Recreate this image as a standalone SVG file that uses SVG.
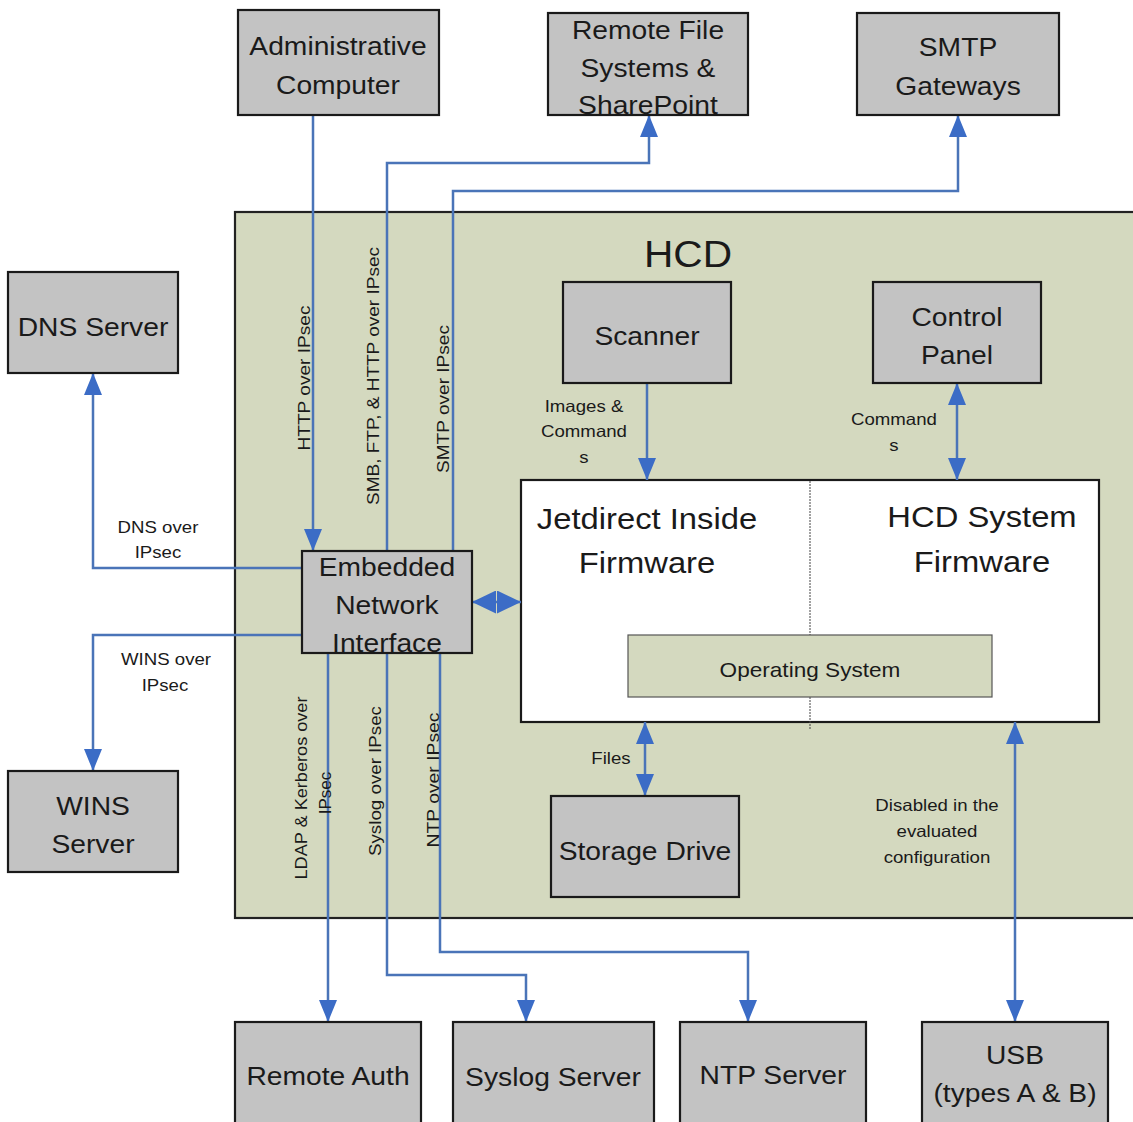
<svg xmlns="http://www.w3.org/2000/svg" width="1133" height="1122" viewBox="0 0 1133 1122">
<style>
text { font-family: "Liberation Sans", Arial, sans-serif; fill: #1a1a1a; }
.h { transform-box: fill-box; transform-origin: center; transform: scaleX(1.13); }
.box { fill: #c3c3c3; stroke: #1a1a1a; stroke-width: 2.2; }
.bl { font-size: 25px; text-anchor: middle; }
.sl { font-size: 16.5px; text-anchor: middle; }
.vl { font-size: 17px; text-anchor: middle; }
.fw { font-size: 29px; text-anchor: middle; }
.con { fill: none; stroke: #4a74b8; stroke-width: 2.5; }
</style>
<defs>
<marker id="arr" viewBox="0 0 22 18" refX="22" refY="9" markerWidth="22" markerHeight="18" markerUnits="userSpaceOnUse" orient="auto-start-reverse"><path d="M0,0 L22,9 L0,18 z" fill="#3b6cc6"/></marker>
<marker id="arr2" viewBox="0 0 24 23" refX="24" refY="11.5" markerWidth="24" markerHeight="23" markerUnits="userSpaceOnUse" orient="auto-start-reverse"><path d="M0,0 L24,11.5 L0,23 z" fill="#3b6cc6"/></marker>
</defs>
<rect width="1133" height="1122" fill="#ffffff"/>

<g id="hcd">
<rect x="235" y="212" width="910" height="706" fill="#d4d9bf" stroke="#222" stroke-width="2.2"/>
<text class="h" x="688" y="267" font-size="36" text-anchor="middle">HCD</text>
</g>

<g id="firmware">
<rect x="521" y="480" width="578" height="242" fill="#ffffff" stroke="#1a1a1a" stroke-width="2.2"/>
<line x1="810" y1="481" x2="810" y2="729" stroke="#444" stroke-width="1" stroke-dasharray="2,1"/>
<text class="fw h" x="647" y="529">Jetdirect Inside</text>
<text class="fw h" x="647" y="573">Firmware</text>
<text class="fw h" x="982" y="527">HCD System</text>
<text class="fw h" x="982" y="572">Firmware</text>
<g id="os">
<rect x="628" y="635" width="364" height="62" fill="#d4d9bf" stroke="#555" stroke-width="1.2"/>
<text class="h" x="810" y="677" font-size="20" text-anchor="middle">Operating System</text>
</g>
</g>

<g id="connectors">
<path class="con" d="M313,115 V551" marker-end="url(#arr)"/>
<path class="con" d="M387,551 V163 H649 V115" marker-end="url(#arr)"/>
<path class="con" d="M453,551 V191 H958 V115" marker-end="url(#arr)"/>
<path class="con" d="M302,568 H93 V373" marker-end="url(#arr)"/>
<path class="con" d="M302,635 H93 V771" marker-end="url(#arr)"/>
<path class="con" d="M328,653 V1022" marker-end="url(#arr)"/>
<path class="con" d="M387,653 V975 H526 V1022" marker-end="url(#arr)"/>
<path class="con" d="M440,653 V952 H748 V1022" marker-end="url(#arr)"/>
<path class="con" d="M472,602 H521" marker-start="url(#arr2)" marker-end="url(#arr2)"/>
<path class="con" d="M647,383 V480" marker-end="url(#arr)"/>
<path class="con" d="M957,383 V480" marker-start="url(#arr)" marker-end="url(#arr)"/>
<path class="con" d="M645,722 V796" marker-start="url(#arr)" marker-end="url(#arr)"/>
<path class="con" d="M1015,722 V1022" marker-start="url(#arr)" marker-end="url(#arr)"/>
</g>

<g id="labels">
<text class="vl" transform="translate(310,378) rotate(-90)" textLength="145" lengthAdjust="spacingAndGlyphs">HTTP over IPsec</text>
<text class="vl" transform="translate(379,376) rotate(-90)" textLength="258" lengthAdjust="spacingAndGlyphs">SMB, FTP, &amp; HTTP over IPsec</text>
<text class="vl" transform="translate(449,399) rotate(-90)" textLength="148" lengthAdjust="spacingAndGlyphs">SMTP over IPsec</text>
<text class="vl" transform="translate(307,788) rotate(-90)" textLength="183" lengthAdjust="spacingAndGlyphs">LDAP &amp; Kerberos over</text>
<text class="vl" transform="translate(331,793) rotate(-90)">IPsec</text>
<text class="vl" transform="translate(381,781) rotate(-90)" textLength="150" lengthAdjust="spacingAndGlyphs">Syslog over IPsec</text>
<text class="vl" transform="translate(439,780) rotate(-90)" textLength="135" lengthAdjust="spacingAndGlyphs">NTP over IPsec</text>
<text class="sl h" x="158" y="533">DNS over</text>
<text class="sl h" x="158" y="558">IPsec</text>
<text class="sl h" x="166" y="665">WINS over</text>
<text class="sl h" x="165" y="691">IPsec</text>
<text class="sl h" x="584" y="412">Images &amp;</text>
<text class="sl h" x="584" y="437">Command</text>
<text class="sl h" x="584" y="463">s</text>
<text class="sl h" x="894" y="425">Command</text>
<text class="sl h" x="894" y="451">s</text>
<text class="sl h" x="611" y="764">Files</text>
<text class="sl h" x="937" y="811">Disabled in the</text>
<text class="sl h" x="937" y="837">evaluated</text>
<text class="sl h" x="937" y="863">configuration</text>
</g>

<g id="admin">
<rect class="box" x="238" y="10" width="201" height="105"/>
<text class="bl h" x="338" y="55">Administrative</text>
<text class="bl h" x="338" y="94">Computer</text>
</g>
<g id="remotefs">
<rect class="box" x="548" y="13" width="200" height="102"/>
<text class="bl h" x="648" y="39">Remote File</text>
<text class="bl h" x="648" y="77">Systems &amp;</text>
<text class="bl h" x="648" y="114">SharePoint</text>
</g>
<g id="smtp">
<rect class="box" x="857" y="13" width="202" height="102"/>
<text class="bl h" x="958" y="56">SMTP</text>
<text class="bl h" x="958" y="95">Gateways</text>
</g>
<g id="dns">
<rect class="box" x="8" y="272" width="170" height="101"/>
<text class="bl h" x="93" y="336">DNS Server</text>
</g>
<g id="wins">
<rect class="box" x="8" y="771" width="170" height="101"/>
<text class="bl h" x="93" y="815">WINS</text>
<text class="bl h" x="93" y="853">Server</text>
</g>
<g id="scanner">
<rect class="box" x="563" y="282" width="168" height="101"/>
<text class="bl h" x="647" y="345">Scanner</text>
</g>
<g id="control">
<rect class="box" x="873" y="282" width="168" height="101"/>
<text class="bl h" x="957" y="326">Control</text>
<text class="bl h" x="957" y="364">Panel</text>
</g>
<g id="eni">
<rect class="box" x="302" y="551" width="170" height="102"/>
<text class="bl h" x="387" y="576">Embedded</text>
<text class="bl h" x="387" y="614">Network</text>
<text class="bl h" x="387" y="652">Interface</text>
</g>
<g id="storage">
<rect class="box" x="551" y="796" width="188" height="101"/>
<text class="bl h" x="645" y="860">Storage Drive</text>
</g>
<g id="remoteauth">
<rect class="box" x="235" y="1022" width="186" height="105"/>
<text class="bl h" x="328" y="1085">Remote Auth</text>
</g>
<g id="syslog">
<rect class="box" x="453" y="1022" width="201" height="105"/>
<text class="bl h" x="553" y="1086">Syslog Server</text>
</g>
<g id="ntp">
<rect class="box" x="680" y="1022" width="186" height="105"/>
<text class="bl h" x="773" y="1084">NTP Server</text>
</g>
<g id="usb">
<rect class="box" x="922" y="1022" width="186" height="105"/>
<text class="bl h" x="1015" y="1064">USB</text>
<text class="bl h" x="1015" y="1102">(types A &amp; B)</text>
</g>
</svg>
